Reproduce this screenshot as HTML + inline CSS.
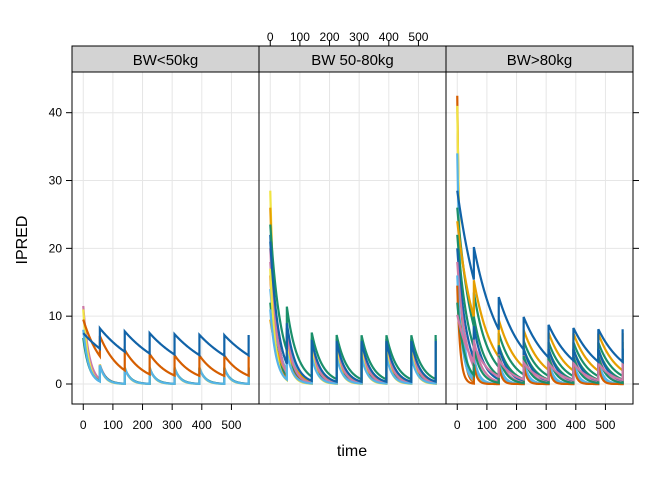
<!DOCTYPE html>
<html><head><meta charset="utf-8"><style>
body{margin:0;background:#fff;font-family:"Liberation Sans",Arial,sans-serif}
svg text{font-family:"Liberation Sans",Arial,sans-serif}
</style></head><body>
<svg id="chart" width="672" height="480" viewBox="0 0 672 480" xmlns="http://www.w3.org/2000/svg"></svg>
<script>
// ---- data ----
const panelNames = ["BW<50kg", "BW 50-80kg", "BW>80kg"];
const doseTimes = [0, 56, 140, 224, 308, 392, 476, 558];
const xTicks = [0, 100, 200, 300, 400, 500];
const yTicks = [0, 10, 20, 30, 40];
const colors = ["#1163A8", "#D55E00", "#E69F00", "#1A8F6A", "#CC79A7", "#56B4E9", "#F0E442"];
// per subject: first-dose peak, maintenance increment, elimination rate, colour index
const panel1C0 = [11.5, 11, 6.8, 8, 9.5, 7.5];
const panel1Cm = [2.2, 2.5, 2.3, 2.4, 3.0, 3.0];
const panel1Ke = [0.05, 0.06, 0.05, 0.055, 0.015, 0.0065];
const panel1Col = [4, 6, 3, 5, 1, 0];
const panel2C0 = [28.5, 26, 22, 18, 16, 14, 12, 9.5, 20, 17, 11, 23.5, 21];
const panel2Cm = [6.5, 6.0, 6.5, 5.5, 5.0, 5.5, 4.5, 3.5, 6.0, 5.0, 4.0, 6.5, 6.0];
const panel2Ke = [0.06, 0.05, 0.045, 0.04, 0.05, 0.035, 0.04, 0.03, 0.045, 0.06, 0.05, 0.028, 0.035];
const panel2Col = [6, 2, 0, 4, 1, 5, 3, 2, 4, 6, 5, 3, 0];
const panel3C0 = [42.5, 41, 34, 26, 24, 22, 20, 18, 16, 14.5, 12, 10.2, 28.5];
const panel3Cm = [3.0, 3.5, 3.5, 5.0, 5.5, 4.5, 4.8, 4.0, 3.5, 3.0, 4.0, 2.5, 4.8];
const panel3Ke = [0.09, 0.08, 0.07, 0.02, 0.016, 0.025, 0.03, 0.035, 0.06, 0.1, 0.04, 0.02, 0.011];
const panel3Col = [1, 6, 5, 3, 2, 3, 0, 4, 5, 1, 3, 4, 0];

// ---- layout ----
const svgEl = document.getElementById('chart');
const NS = "http://www.w3.org/2000/svg";
const panelX = [72, 259, 446], panelW = 187, plotTop = 72, plotBottom = 404, stripY = 46;
const xMin = -38, xMax = 593, yMin = -2.95, yMax = 46;
function xs(t, p) { return panelX[p] + (t - xMin) / (xMax - xMin) * panelW; }
function ys(v) { return plotBottom - (v - yMin) / (yMax - yMin) * (plotBottom - plotTop); }
function mk(tag, attrs, parent) {
  const e = document.createElementNS(NS, tag);
  for (const k in attrs) e.setAttribute(k, attrs[k]);
  (parent || svgEl).appendChild(e); return e;
}
function conc(t, c0, cm, ke) {
  let c = 0;
  for (let i = 0; i < doseTimes.length; i++) {
    if (t >= doseTimes[i]) c += (i === 0 ? c0 : cm) * Math.exp(-ke * (t - doseTimes[i]));
  }
  return c;
}
const sets = [[panel1C0, panel1Cm, panel1Ke, panel1Col], [panel2C0, panel2Cm, panel2Ke, panel2Col], [panel3C0, panel3Cm, panel3Ke, panel3Col]];

for (let p = 0; p < 3; p++) {
  const g = mk('g', {});
  
  
  xTicks.forEach(t => { const l = mk('line', {x1: xs(t, p), x2: xs(t, p), y1: plotTop, y2: plotBottom, stroke: '#e6e6e6', 'stroke-width': 1}, g);   });
  yTicks.forEach(v => { const l = mk('line', {x1: panelX[p], x2: panelX[p] + panelW, y1: ys(v), y2: ys(v), stroke: '#e6e6e6', 'stroke-width': 1}, g);   });
  const [C0, Cm, Ke, Col] = sets[p];
  for (let s = 0; s < C0.length; s++) {
    let d = '';
    for (let t = 0; t <= 558; t += 1) {
      if (doseTimes.includes(t) && t > 0) {
        d += 'L' + xs(t, p).toFixed(2) + ',' + ys(conc(t - 0.001, C0[s], Cm[s], Ke[s])).toFixed(2);
      }
      d += (t === 0 ? 'M' : 'L') + xs(t, p).toFixed(2) + ',' + ys(conc(t, C0[s], Cm[s], Ke[s])).toFixed(2);
    }
    const path = mk('path', {d: d, fill: 'none', stroke: colors[Col[s]], 'stroke-width': 2.2}, g);
    
    
  }
  const fr = mk('rect', {x: panelX[p], y: plotTop, width: panelW, height: plotBottom - plotTop, fill: 'none', stroke: '#000', 'stroke-width': 1}, g);
  
  
  const st = mk('rect', {x: panelX[p], y: stripY, width: panelW, height: plotTop - stripY, fill: '#d3d3d3', stroke: '#000', 'stroke-width': 1}, g);
  
  
  const stt = mk('text', {x: panelX[p] + panelW / 2, y: 65, 'text-anchor': 'middle', 'font-size': 15}, g);
  stt.textContent = panelNames[p];
  
  
  const isTopAxis = p === 1;
  xTicks.forEach(t => {
    const x = xs(t, p);
    if (isTopAxis) {
      const tk = mk('line', {x1: x, x2: x, y1: stripY, y2: stripY - 6, stroke: '#000'}, g);
      
      
      const tx = mk('text', {x: x, y: 41, 'text-anchor': 'middle', 'font-size': 12}, g);
      tx.textContent = t;
      
      
    } else {
      const tk = mk('line', {x1: x, x2: x, y1: plotBottom, y2: plotBottom + 6, stroke: '#000'}, g);
      
      
      const tx = mk('text', {x: x, y: 429, 'text-anchor': 'middle', 'font-size': 12}, g);
      tx.textContent = t;
      
      
    }
  });
}
yTicks.forEach(v => {
  const a = mk('line', {x1: 66, x2: 72, y1: ys(v), y2: ys(v), stroke: '#000'});
  
  
  const b = mk('line', {x1: 633, x2: 639, y1: ys(v), y2: ys(v), stroke: '#000'});
  
  
  const tx = mk('text', {x: 62, y: ys(v) + 4, 'text-anchor': 'end', 'font-size': 12});
  tx.textContent = v;
  
  
});
const yt = mk('text', {x: 27, y: 240, 'text-anchor': 'middle', 'font-size': 16, transform: 'rotate(-90 27 240)'});
yt.textContent = 'IPRED';


const xt = mk('text', {x: 352, y: 456, 'text-anchor': 'middle', 'font-size': 16});
xt.textContent = 'time';


</script>
</body></html>
